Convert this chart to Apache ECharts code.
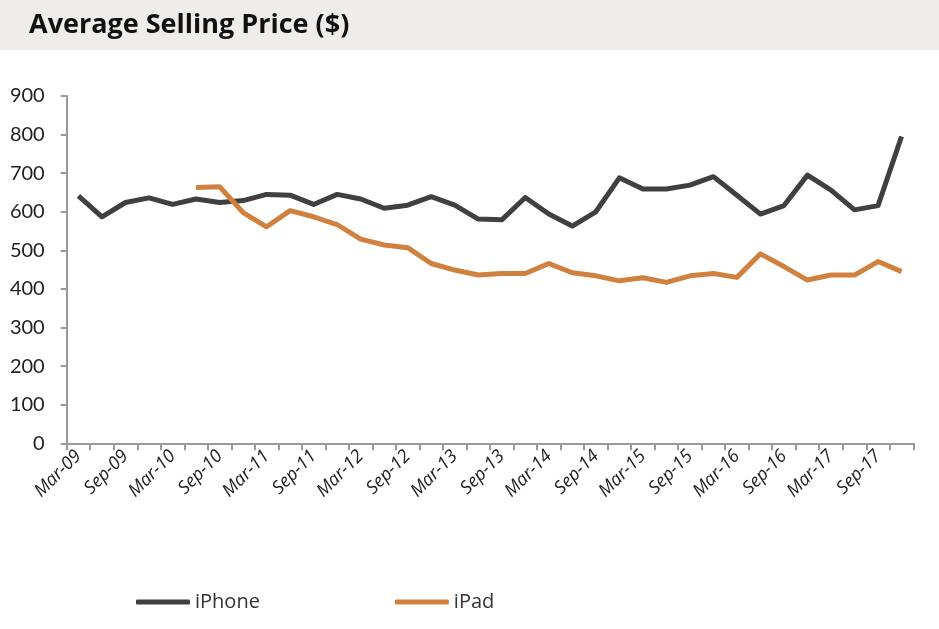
<!DOCTYPE html>
<html>
<head>
<meta charset="utf-8">
<script src="https://cdn.jsdelivr.net/npm/echarts@6/dist/echarts.min.js"></script>
<style>html,body{margin:0;padding:0;background:#fff}#c{width:939px;height:629px}</style>
</head>
<body>
<div id="c"></div>
<script>
const categories = ["Mar-09","Jun-09","Sep-09","Dec-09","Mar-10","Jun-10","Sep-10","Dec-10","Mar-11","Jun-11","Sep-11","Dec-11","Mar-12","Jun-12","Sep-12","Dec-12","Mar-13","Jun-13","Sep-13","Dec-13","Mar-14","Jun-14","Sep-14","Dec-14","Mar-15","Jun-15","Sep-15","Dec-15","Mar-16","Jun-16","Sep-16","Dec-16","Mar-17","Jun-17","Sep-17","Dec-17"];
const iphone = [641,587,624,636,619,633,624,629,645,643,619,645,633,609,617,639,617,581,579,637,594,563,600,688,659,659,669,691,643,594,616,695,656,605,616,795];
const ipad = [null,null,null,null,null,663,665,598,561,603,587,567,529,514,507,466,449,436,440,440,466,442,434,421,429,417,434,440,430,491,458,423,436,436,471,445];
const yTicks = {min:0, max:900, interval:100};

const chart = echarts.init(document.getElementById('c'));
chart.setOption({
  animation:false,
  graphic:[{type:'rect', left:0, top:0, shape:{width:939, height:50}, style:{fill:'#EFEDEA'}, z:-1}],
  title:{text:'Average Selling Price ($)', left:24, top:7, textStyle:{fontFamily:'Open Sans', fontWeight:'bold', fontSize:27, color:'#111'}},
  legend:{bottom:12, left:131, itemGap:135, itemWidth:54, itemHeight:5, icon:'roundRect',
    textStyle:{fontFamily:'Open Sans', fontSize:20, color:'#333'},
    data:['iPhone','iPad']},
  grid:{left:66.7, right:25.7, top:96, bottom:185.7, containLabel:false},
  xAxis:{type:'category', data:categories, boundaryGap:true,
    axisLine:{lineStyle:{color:'#999', width:2}},
    axisTick:{show:true, interval:0, length:7, lineStyle:{color:'#999', width:2}},
    axisLabel:{interval:1, rotate:45, margin:10, fontFamily:'Open Sans', fontStyle:'italic', fontSize:18, color:'#222'}},
  yAxis:{type:'value', min:yTicks.min, max:yTicks.max, interval:yTicks.interval,
    splitLine:{show:false},
    axisLine:{show:true, lineStyle:{color:'#999', width:2}},
    axisTick:{show:true, length:6, lineStyle:{color:'#999', width:2}},
    axisLabel:{margin:22, fontFamily:'Lato', fontSize:20, color:'#222'}},
  series:[
    {name:'iPhone', type:'line', data:iphone, symbol:'none', lineStyle:{color:'#404040', width:5, join:'round'}, itemStyle:{color:'#404040'}},
    {name:'iPad', type:'line', data:ipad, symbol:'none', lineStyle:{color:'#D0803F', width:5, join:'round'}, itemStyle:{color:'#D0803F'}}
  ]
});
</script>
</body>
</html>
